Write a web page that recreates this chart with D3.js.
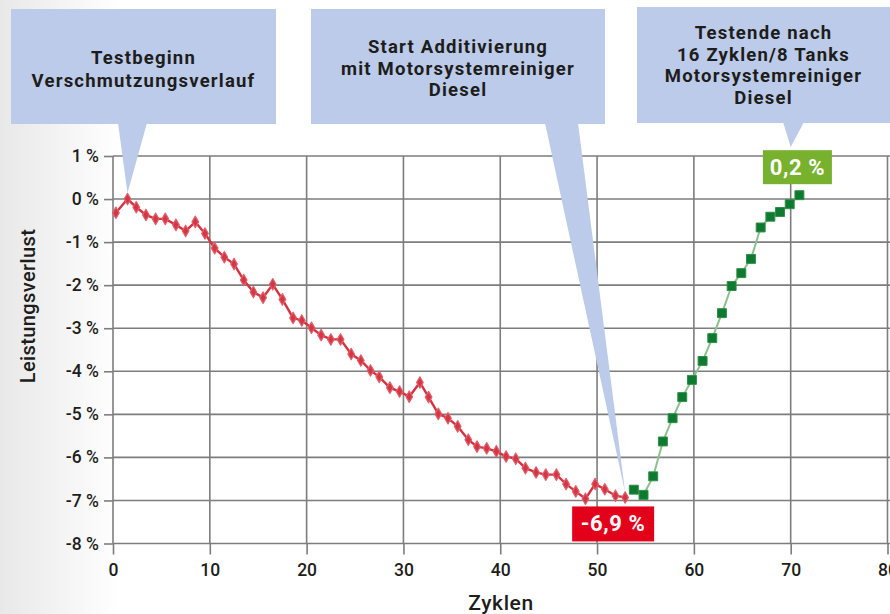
<!DOCTYPE html>
<html>
<head>
<meta charset="utf-8">
<script src="https://cdn.jsdelivr.net/npm/d3@7"></script>
<style>
  html, body { margin: 0; padding: 0; background: #fff; }
  svg { display: block; font-family: Roboto, 'DejaVu Sans', sans-serif; }
</style>
</head>
<body>
<svg id="chart" width="890" height="614"></svg>
<script>
// ---- data ----
const redX = [0.3, 1.5, 2.4, 3.4, 4.4, 5.4, 6.5, 7.5, 8.5, 9.5,
  10.5, 11.5, 12.5, 13.5, 14.5, 15.5, 16.5, 17.5, 18.6, 19.5,
  20.5, 21.5, 22.5, 23.5, 24.6, 25.6, 26.6, 27.5, 28.6, 29.6,
  30.6, 31.7, 32.6, 33.6, 34.6, 35.6, 36.7, 37.6, 38.6, 39.6,
  40.6, 41.6, 42.6, 43.7, 44.7, 45.8, 46.8, 47.8, 48.8, 49.8,
  50.8, 51.9, 52.9];
const redY = [-0.32, 0.0, -0.19, -0.37, -0.46, -0.46, -0.6, -0.74, -0.53, -0.8,
  -1.14, -1.35, -1.51, -1.88, -2.16, -2.29, -1.98, -2.33, -2.76, -2.82,
  -2.99, -3.16, -3.26, -3.26, -3.6, -3.75, -3.98, -4.13, -4.38, -4.47,
  -4.59, -4.26, -4.6, -4.99, -5.09, -5.28, -5.59, -5.75, -5.79, -5.86,
  -5.98, -6.03, -6.25, -6.35, -6.4, -6.4, -6.62, -6.79, -6.96, -6.62,
  -6.74, -6.89, -6.93];
const greenX = [53.8, 54.8, 55.8, 56.8, 57.8, 58.8, 59.8, 60.9, 61.9, 62.9,
  63.9, 64.9, 65.9, 66.9, 67.9, 68.9, 69.9, 70.9];
const greenY = [-6.75, -6.87, -6.44, -5.63, -5.09, -4.6, -4.2, -3.76, -3.23, -2.65,
  -2.02, -1.72, -1.39, -0.66, -0.41, -0.3, -0.12, 0.09];
const xTicks = [0, 10, 20, 30, 40, 50, 60, 70, 80];
const yTicks = [1, 0, -1, -2, -3, -4, -5, -6, -7, -8];
const xTitle = 'Zyklen';
const yTitle = 'Leistungsverlust';
const noteStart = ['Testbeginn', 'Verschmutzungsverlauf'];
const noteAdditive = ['Start Additivierung', 'mit Motorsystemreiniger', 'Diesel'];
const noteEnd = ['Testende nach', '16 Zyklen/8 Tanks', 'Motorsystemreiniger', 'Diesel'];
const lowLabel = '-6,9 %';
const endLabel = '0,2 %';

// ---- layout ----
const W = 890, H = 614;
const M = { left: 113, right: 3, top: 156, bottom: 70 };
const INK = '#1d1d1b';
const fmt = (v) => String(v).replace('.', ',') + ' %';

const svg = d3.select('#chart');

// faint grey shading on the left edge
const defs = svg.append('defs');
const grad = defs.append('linearGradient').attr('id', 'lshade').attr('x1', 0).attr('x2', 1);
grad.append('stop').attr('offset', '0%').attr('stop-color', '#e8e8e8');
grad.append('stop').attr('offset', '100%').attr('stop-color', '#ffffff');
svg.append('rect').attr('width', 120).attr('height', H).attr('fill', 'url(#lshade)');

const x = d3.scaleLinear().domain([0, 80]).range([M.left, 887.5]);
const y = d3.scaleLinear().domain([-8, 1]).range([543.5, M.top]);

// ---- grid ----
const grid = svg.append('g').attr('stroke', '#7d7d7d').attr('stroke-width', 1.6);
grid.selectAll('line.h').data(yTicks).join('line')
  .attr('class', 'h')
  .attr('x1', x(0)).attr('x2', W)
  .attr('y1', (d) => y(d)).attr('y2', (d) => y(d));
grid.selectAll('line.v').data(xTicks).join('line')
  .attr('class', 'v')
  .attr('x1', (d) => x(d)).attr('x2', (d) => x(d))
  .attr('y1', y(1)).attr('y2', y(-8));

// ---- axes ----
const yAxis = svg.append('g')
  .attr('transform', `translate(${x(0)},0)`)
  .call(d3.axisLeft(y).tickValues(yTicks).tickSize(9).tickPadding(5).tickFormat(fmt));
const xAxis = svg.append('g')
  .attr('transform', `translate(0,${y(-8)})`)
  .call(d3.axisBottom(x).tickValues(xTicks).tickSize(11).tickPadding(9));
[yAxis, xAxis].forEach((a) => {
  a.select('.domain').remove();
  a.selectAll('line').attr('stroke', '#7d7d7d').attr('stroke-width', 1.6);
  a.selectAll('text')
    .attr('font-family', 'Roboto, sans-serif')
    .attr('font-size', 17.5)
    .attr('font-weight', 500)
    .attr('fill', INK);
});

svg.append('text')
  .attr('x', 501).attr('y', 610)
  .attr('text-anchor', 'middle')
  .attr('font-size', 21).attr('font-weight', 500)
  .attr('letter-spacing', 0.6)
  .attr('fill', INK)
  .text(xTitle);
svg.append('text')
  .attr('transform', 'translate(35,306) rotate(-90)')
  .attr('text-anchor', 'middle')
  .attr('font-size', 20).attr('font-weight', 500)
  .attr('letter-spacing', 0.4)
  .attr('fill', INK)
  .text(yTitle);

// ---- series ----
const red = redX.map((v, i) => [v, redY[i]]);
const green = greenX.map((v, i) => [v, greenY[i]]);
const line = d3.line().x((d) => x(d[0])).y((d) => y(d[1]));

svg.append('path').datum(green)
  .attr('d', line).attr('fill', 'none')
  .attr('stroke', '#8cc08f').attr('stroke-width', 2);
svg.append('g').selectAll('path').data(green).join('path')
  .attr('d', d3.symbol(d3.symbolSquare, 80))
  .attr('transform', (d) => `translate(${x(d[0])},${y(d[1])})`)
  .attr('fill', '#0e7a31').attr('stroke', '#2f8f45').attr('stroke-width', 1);

svg.append('path').datum(red)
  .attr('d', line).attr('fill', 'none')
  .attr('stroke', '#d8323f').attr('stroke-width', 2.4);
svg.append('g').selectAll('path').data(red).join('path')
  .attr('d', d3.symbol(d3.symbolDiamond, 38))
  .attr('transform', (d) => `translate(${x(d[0])},${y(d[1])})`)
  .attr('fill', '#d43646').attr('stroke', '#e0606b').attr('stroke-width', 1.2)
  .attr('stroke-linejoin', 'round');

// ---- callouts ----
const NOTE_FILL = '#bccbe9';
function callout(box, base, tip, lines, firstBaseline, lh) {
  const g = svg.append('g');
  g.append('path')
    .attr('d', `M${base[0]},${box.y + box.h - 1}L${base[1]},${box.y + box.h - 1}L${tip[0]},${tip[1]}Z`)
    .attr('fill', NOTE_FILL);
  g.append('rect')
    .attr('x', box.x).attr('y', box.y).attr('width', box.w).attr('height', box.h)
    .attr('fill', NOTE_FILL);
  const cx = box.x + box.w / 2;
  g.selectAll('text').data(lines).join('text')
    .attr('x', cx)
    .attr('y', (d, i) => firstBaseline + i * lh)
    .attr('text-anchor', 'middle')
    .attr('font-size', 18.5).attr('font-weight', 700)
    .attr('letter-spacing', 1.2)
    .attr('fill', INK)
    .text((d) => d);
}

callout({ x: 11, y: 9, w: 265, h: 115 }, [118, 147],
  [x(redX[1]), y(redY[1]) - 6], noteStart, 64, 23);
const lastRed = red[red.length - 1];
callout({ x: 311, y: 9, w: 294, h: 115 }, [545, 578],
  [x(lastRed[0]), y(lastRed[1]) - 5], noteAdditive, 53, 21.5);
const lastGreen = green[green.length - 1];
callout({ x: 637, y: 7, w: 253, h: 116 }, [783, 804],
  [x(70), 147], noteEnd, 39, 21.7);

// value tags
function tag(cx, top, w, h, fill, txt) {
  svg.append('rect').attr('x', cx - w / 2).attr('y', top).attr('width', w).attr('height', h).attr('fill', fill);
  svg.append('text')
    .attr('x', cx).attr('y', top + h / 2 + 7.5)
    .attr('text-anchor', 'middle')
    .attr('font-size', 22).attr('font-weight', 700)
    .attr('letter-spacing', 0.6)
    .attr('fill', '#fff')
    .text(txt);
}
tag(x(lastRed[0]) - 12, y(lastRed[1]) + 9, 82, 35, '#e2001a', lowLabel);
tag(x(lastGreen[0]) - 2, y(lastGreen[1]) - 45, 69, 34, '#77b12e', endLabel);
</script>
</body>
</html>
